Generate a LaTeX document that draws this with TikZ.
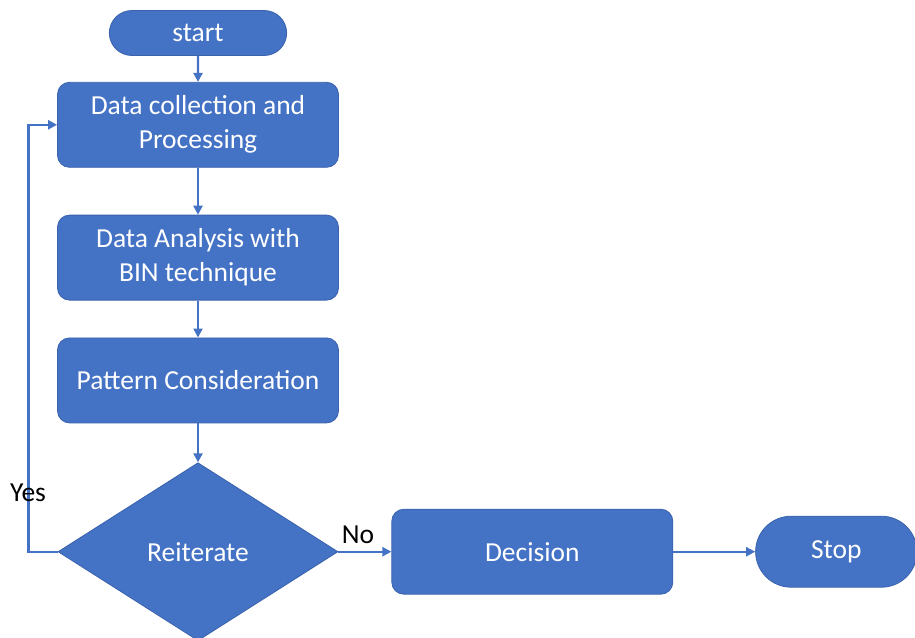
\documentclass[tikz,border=0pt]{standalone}
\usepackage{fontspec}
\setmainfont{Carlito}
\usetikzlibrary{arrows.meta,positioning,shapes.geometric,shapes.misc}

\definecolor{officeblue}{HTML}{4472C4}
\definecolor{edgeblue}{HTML}{3A62AD}

\begin{document}
\begin{tikzpicture}[x=1pt, y=-1pt, node distance=30pt and 50pt,
  every node/.style={font=\fontsize{27.5}{34}\selectfont}]

\tikzstyle{terminal} = [rounded rectangle, draw=edgeblue, line width=0.8pt, fill=officeblue, text=white, text centered]
\tikzstyle{process} = [rectangle, rounded corners=12pt, draw=edgeblue, line width=0.8pt, fill=officeblue, text=white, align=center, minimum width=281pt, minimum height=85pt]
\tikzstyle{choice} = [diamond, draw=edgeblue, line width=0.8pt, fill=officeblue, text=white, minimum width=280pt, minimum height=178pt, inner sep=0pt]
\tikzstyle{arrow} = [draw=officeblue, line width=2.4pt, -{Triangle[length=9pt,width=9pt]}]

\useasboundingbox (0,0) rectangle (915,637);

% Flow
\node[terminal, minimum width=184pt, minimum height=45pt] (start) at (198,33) {start};
\node[process, below=26pt of start] (collect) {Data collection and\\Processing};
\node[process, below=47pt of collect] (analysis) {Data Analysis with\\BIN technique};
\node[process, below=37pt of analysis] (pattern) {Pattern Consideration};
\node[choice, below=39pt of pattern] (reiterate) {Reiterate};

% Outcome
\node[process, right=53pt of reiterate] (decision) {Decision};
\node[terminal, right=82pt of decision, minimum width=168pt, minimum height=71pt] (stop) {Stop};

% Arrows
\draw[arrow] (start) -- (collect);
\draw[arrow] (collect) -- (analysis);
\draw[arrow] (analysis) -- (pattern);
\draw[arrow] (pattern) -- (reiterate);
\draw[arrow] (reiterate) -- (decision);
\draw[arrow] (decision) -- (stop);
\draw[arrow] (reiterate.west) -- ++(-29,0) |- (collect.west);

% Labels
\node (yes) at (28,493) {Yes};
\node (no) at (358,535) {No};

\end{tikzpicture}
\end{document}
